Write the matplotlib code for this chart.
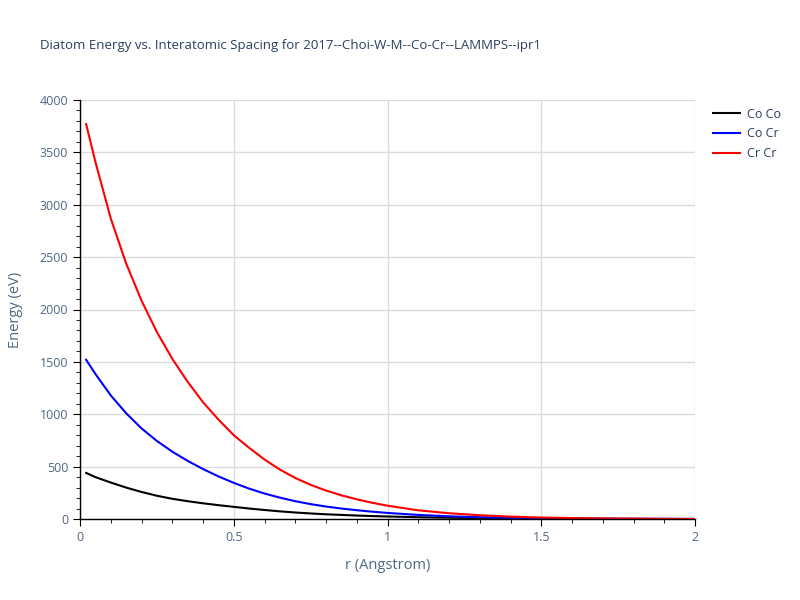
"""
Diatom energy vs. interatomic spacing, redrawn from the reference picture.
"""

import matplotlib
matplotlib.use('Agg')
import matplotlib.pyplot as plt
from matplotlib.ticker import MultipleLocator

# Data
r = [0.02, 0.05, 0.1, 0.15, 0.2, 0.25, 0.3, 0.35, 0.4, 0.45, 0.5,
     0.55, 0.6, 0.65, 0.7, 0.75, 0.8, 0.85, 0.9, 0.95, 1.0,
     1.1, 1.2, 1.3, 1.4, 1.5, 1.6, 1.7, 1.8, 1.9, 2.0]
co_co = [440, 400, 348, 300, 258, 222, 193, 170, 150, 132, 116,
         100, 86, 73, 62, 53, 45, 39, 33, 28, 24,
         17, 12, 9, 6, 4, 3, 2, 1.2, 0.6, 0]
co_cr = [1520, 1385, 1180, 1010, 865, 745, 643, 555, 477, 407, 345,
         290, 243, 204, 170, 142, 119, 100, 84, 70, 58,
         39, 26, 17, 11, 7, 4, 2.5, 1.5, 0.8, 0]
cr_cr = [3770, 3410, 2870, 2440, 2085, 1785, 1530, 1310, 1115, 950, 800,
         680, 568, 472, 392, 326, 272, 226, 188, 155, 127,
         83, 55, 36, 23, 14, 9, 5, 3, 1.5, 0]

plt.rcParams['font.family'] = ['Open Sans', 'DejaVu Sans']
text_color = '#2a3f5f'
tick_color = '#506784'

fig = plt.figure(figsize=(8, 6), dpi=100)
ax = fig.add_axes([80 / 800, 1 - 519 / 600, 615 / 800, 419 / 600])

ax.plot(r, co_co, color='black', linewidth=1.5, label='Co Co')
ax.plot(r, co_cr, color='blue', linewidth=1.5, label='Co Cr')
ax.plot(r, cr_cr, color='red', linewidth=1.5, label='Cr Cr')

ax.set_xlim(0, 2)
ax.set_ylim(0, 4000)
ax.xaxis.set_major_locator(MultipleLocator(0.5))
ax.xaxis.set_minor_locator(MultipleLocator(0.1))
ax.yaxis.set_major_locator(MultipleLocator(500))
ax.yaxis.set_minor_locator(MultipleLocator(100))
ax.set_xticks([0, 0.5, 1, 1.5, 2], ['0', '0.5', '1', '1.5', '2'])

ax.grid(True, which='major', color='#dcdcdc', linewidth=1)
ax.set_axisbelow(True)
for side in ['top', 'right']:
    ax.spines[side].set_visible(False)
for side in ['left', 'bottom']:
    ax.spines[side].set_color('black')
    ax.spines[side].set_linewidth(1)

ax.tick_params(which='major', length=5, color='black', labelcolor=tick_color,
               labelsize=9)
ax.tick_params(which='minor', length=3, color='black')

ax.set_xlabel('r (Angstrom)', fontsize=10.5, color=tick_color, labelpad=10)
ax.set_ylabel('Energy (eV)', fontsize=10.5, color=tick_color, labelpad=12)

fig.text(40 / 800, 1 - 46 / 600,
         'Diatom Energy vs. Interatomic Spacing for 2017--Choi-W-M--Co-Cr--LAMMPS--ipr1',
         fontsize=9.5, color=text_color, va='center', ha='left')

ax.legend(loc='upper left', bbox_to_anchor=(1.017, 1.0), frameon=False,
          fontsize=9, handlelength=2.2, handletextpad=0.5, labelcolor=text_color,
          borderaxespad=0.2, labelspacing=0.55)

fig.savefig('out.png', dpi=100)
